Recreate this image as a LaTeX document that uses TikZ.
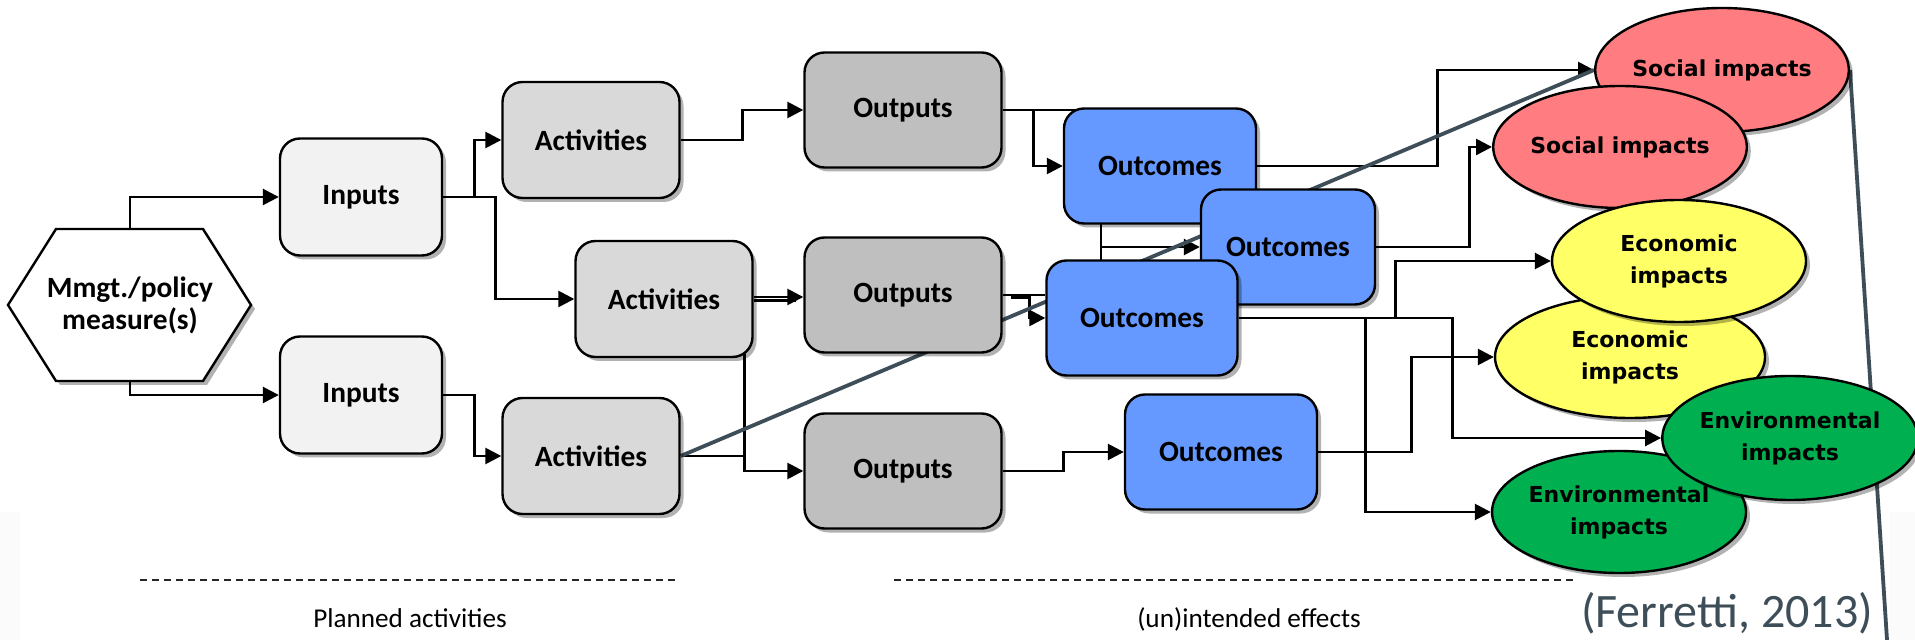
\documentclass[tikz,border=0pt]{standalone}
\usepackage{fontspec}
\setmainfont{Carlito}
\newfontfamily\ellfont{DejaVu Sans}
\usetikzlibrary{shapes.geometric,arrows.meta,shadows,backgrounds}
\definecolor{inpc}{RGB}{242,242,242}
\definecolor{actc}{RGB}{217,217,217}
\definecolor{outc}{RGB}{191,191,191}
\definecolor{ocmc}{RGB}{102,153,255}
\definecolor{socc}{RGB}{255,124,128}
\definecolor{ecoc}{RGB}{255,255,102}
\definecolor{envc}{RGB}{0,176,80}
\definecolor{slate}{RGB}{62,78,88}
\definecolor{faint}{RGB}{251,251,251}
\begin{document}
\begin{tikzpicture}[x=0.5pt,y=-0.5pt,
  shad/.style={drop shadow={shadow xshift=2pt,shadow yshift=-2pt,opacity=0.3,fill=black}},
  box/.style={draw=black,line width=1.2pt,rounded corners=10pt,inner sep=0pt,
    font=\fontsize{14.7}{17}\selectfont\bfseries,shad},
  inbox/.style={box,fill=inpc,minimum width=81pt,minimum height=58.5pt},
  actbox/.style={box,fill=actc,minimum width=88.5pt,minimum height=58pt},
  outbox/.style={box,fill=outc,minimum width=98.5pt,minimum height=57.5pt},
  ocmbox/.style={box,fill=ocmc,minimum height=57.5pt},
  ell/.style={ellipse,draw=black,line width=1.2pt,inner sep=0pt,align=center,
    font=\ellfont\bfseries\fontsize{11}{16}\selectfont,shad},
  ellabel/.style={inner sep=0pt,align=center,font=\ellfont\bfseries\fontsize{11}{16}\selectfont},
  line/.style={draw=black,line width=1.3pt},
  conn/.style={line,-{Triangle[length=8pt,width=8pt]}},
  slateline/.style={draw=slate,line width=1.9pt},
  dashline/.style={draw=black!85,line width=0.7pt,dash pattern=on 3.5pt off 2.5pt},
  lbl/.style={font=\fontsize{13.6}{16}\selectfont,anchor=base,inner sep=0pt}
]
\useasboundingbox (0,0) rectangle (1915,640);

% hexagon
\filldraw[fill=white,draw=black,line width=1.2pt,shad]
  (8,305) -- (56,229) -- (203,229) -- (251,305) -- (203,381) -- (56,381) -- cycle;
\node[font=\fontsize{14.7}{16}\selectfont\bfseries,align=center,inner sep=0pt,
  minimum width=120pt,minimum height=76pt] (hex) at (130,305) {Mmgt./policy\\measure(s)};

% boxes
\node[inbox] (in1) at (361,197) {Inputs};
\node[inbox] (in2) at (361,395) {Inputs};
\node[actbox] (ac1) at (591,140) {Activities};
\node[actbox] (ac2) at (664,299) {Activities};
\node[actbox] (ac3) at (591,456) {Activities};
\node[outbox] (op1) at (903,110) {Outputs};
\node[outbox] (op2) at (903,295) {Outputs};
\node[outbox] (op3) at (903,471) {Outputs};
\node[ocmbox,minimum width=96pt] (oc1) at (1160,166) {Outcomes};
\node[ocmbox,minimum width=87pt] (oc2) at (1288,247) {Outcomes};
\node[ocmbox,minimum width=95.5pt] (oc3) at (1142,318) {Outcomes};
\node[ocmbox,minimum width=96pt] (oc4) at (1221,452) {Outcomes};

% ellipses
\node[ell,fill=socc,minimum width=106pt,minimum height=62pt] (s1) at (1722,70) {Social impacts};
\node[ell,fill=socc,minimum width=117pt,minimum height=61pt] (s2) at (1620,147) {Social impacts};
\node[ell,fill=ecoc,minimum width=135pt,minimum height=61pt] (e2) at (1630,357) {Economic\\impacts};
\node[ell,fill=ecoc,minimum width=127pt,minimum height=61pt] (e1) at (1679,261) {Economic\\impacts};
\node[ell,fill=envc,minimum width=127pt,minimum height=61pt] (v2) at (1619,512) {};
\node[ell,fill=envc,minimum width=123pt,minimum height=62pt] (v1) at (1790,438) {Environmental\\impacts};
\node[ellabel] (v2l) at (v2.center) {Environmental\\impacts};

\coordinate (j1) at ([xshift=-4.5pt]ac2.south east);
\coordinate (j2) at ([xshift=19pt]oc1.south west);
\coordinate (lb) at (1887,640);

\begin{pgfonlayer}{background}
\fill[white] (0,0) rectangle (1915,640);
\fill[faint] (0,512) rectangle (20,640);
\fill[faint] (1890,512) rectangle (1915,640);
\draw[conn] (hex.north) |- (in1.west);
\draw[conn] (hex.south) |- (in2.west);
\draw[conn] (in1.east) -- ++(31,0) |- (ac1.west);
\draw[conn] (in1.east) -- ++(52,0) |- (ac2.west);
\draw[conn] (in2.east) -- ++(31,0) |- (ac3.west);
\draw[conn] (ac1.east) -- ++(62,0) |- (op1.west);
\draw[conn] ([yshift=1pt]ac2.east) -- ([yshift=1pt]ac2.east -| op2.west);
\draw[line] ([yshift=-0.9pt]ac2.east) -- ++(42,0);
\draw[conn] ([yshift=5pt]j1) |- (op3.west);
\draw[line] (ac3.east) -- (ac3.east -| j1);
\draw[conn] (op1.east) -- ++(31,0) |- (oc1.west);
\draw[line] (op1.east) -- ++(90,0);
\draw[line] ([yshift=5pt]j2) -- ([yshift=-5pt]j2 |- oc3.north);
\draw[conn] (j2 |- oc2.west) -- (oc2.west);
\draw[line] (op2.east) -- (op2.east -| oc3.west);
\draw[conn] ([xshift=4pt,yshift=-1.3pt]op2.east) -- ++(19,0) |- (oc3.west);
\draw[conn] (op3.east) -- ++(61,0) |- (oc4.west);
\draw[conn] (oc1.east) -- ++(180,0) |- (s1.west);
\draw[conn] (oc2.east) -- ++(93,0) |- (s2.west);
\draw[conn] (oc3.east) -- ++(157,0) |- (e1.west);
\draw[conn] (oc3.east) -- ++(214,0) |- (v1.west);
\draw[conn] (oc3.east) -- ++(127,0) |- (v2.west);
\draw[conn] (oc4.east) -- ++(93,0) |- (e2.west);
\draw[slateline] (ac3.east) -- (s1.west);
\draw[slateline] (s1.east) -- (lb);
\end{pgfonlayer}

% dashed separators and captions
\draw[dashline] (140,580) -- (679,580);
\draw[dashline] (894,580) -- (1575,580);
\node[lbl] (pa) at (410,627) {Planned activities};
\node[lbl] (ie) at (1249,627) {(un)intended effects};
\node[lbl,font=\fontsize{24}{28}\selectfont,text=slate] (fer) at (1727,627) {(Ferretti, 2013)};
\end{tikzpicture}
\end{document}
